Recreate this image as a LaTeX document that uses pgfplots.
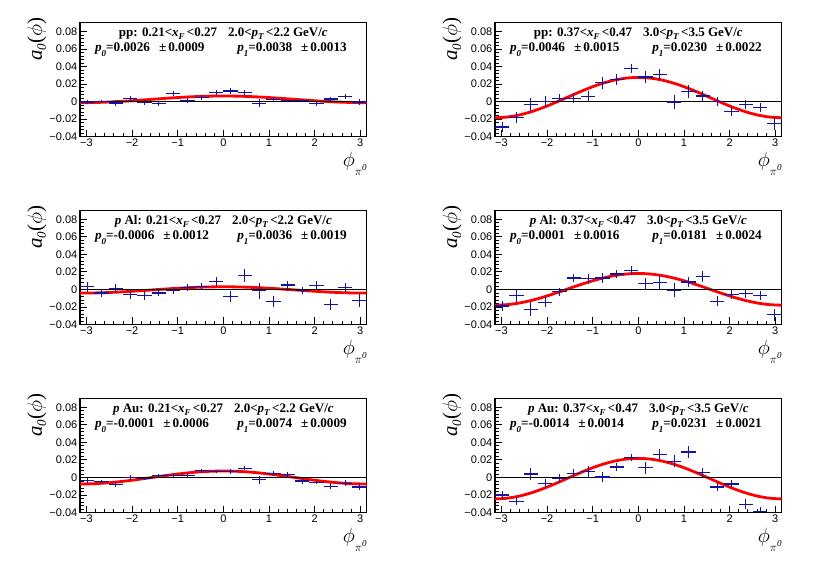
\documentclass[border=0pt]{standalone}
\usepackage{fontspec}
\setmainfont{Liberation Serif}
\newfontfamily\helv{Liberation Sans}
\usepackage{pgfplots}
\pgfplotsset{compat=1.18}
\usepackage{pgfplotstable}

\definecolor{ptblue}{RGB}{20,20,160}
\definecolor{fitred}{RGB}{255,0,0}

\newcommand{\ttlfont}{\fontsize{13}{13}\selectfont\bfseries}
\newcommand{\plfont}{\fontsize{13.2}{13.2}\selectfont\bfseries}
\newcommand{\ylabfont}{\fontsize{21}{21}\selectfont}
\newcommand{\sbx}[2]{\raisebox{-#1}{\fontsize{9}{9}\selectfont\textit{#2}}}
\newcommand{\pline}[3]{\textit{p}\sbx{5pt}{#1}=#2\hspace{9pt}±\hspace{2pt}#3}
\newcommand{\kin}[4]{#1<\textit{x}\sbx{3pt}{F}\,<#2\hspace{11pt}#3<\textit{p}\sbx{3pt}{T}\,<#4 GeV/\textit{c}}

\pgfplotstableread{
x y e
-2.9845 -0.0005 0.0025
-2.6704 0.0000 0.0020
-2.3562 -0.0015 0.0030
-2.0420 0.0035 0.0025
-1.7279 -0.0010 0.0030
-1.4137 -0.0020 0.0025
-1.0996 0.0090 0.0030
-0.7854 0.0015 0.0030
-0.4712 0.0050 0.0030
-0.1571 0.0100 0.0030
0.1571 0.0120 0.0035
0.4712 0.0100 0.0030
0.7854 -0.0020 0.0045
1.0996 0.0020 0.0030
1.4137 0.0010 0.0020
1.7279 0.0015 0.0020
2.0420 -0.0025 0.0020
2.3562 0.0030 0.0025
2.6704 0.0055 0.0030
2.9845 -0.0005 0.0030
}\tA
\pgfplotstableread{
x y e
-2.9845 -0.0290 0.0060
-2.6704 -0.0180 0.0060
-2.3562 -0.0035 0.0075
-2.0420 0.0000 0.0065
-1.7279 0.0040 0.0050
-1.4137 0.0040 0.0060
-1.0996 0.0060 0.0060
-0.7854 0.0215 0.0070
-0.4712 0.0250 0.0060
-0.1571 0.0380 0.0050
0.1571 0.0280 0.0065
0.4712 0.0310 0.0060
0.7854 -0.0005 0.0075
1.0996 0.0115 0.0070
1.4137 0.0065 0.0060
1.7279 0.0000 0.0055
2.0420 -0.0110 0.0050
2.3562 -0.0035 0.0050
2.6704 -0.0070 0.0050
2.9845 -0.0250 0.0075
}\tB
\pgfplotstableread{
x y e
-2.9845 0.0030 0.0060
-2.6704 -0.0040 0.0050
-2.3562 0.0010 0.0050
-2.0420 -0.0055 0.0050
-1.7279 -0.0070 0.0050
-1.4137 -0.0040 0.0035
-1.0996 -0.0010 0.0040
-0.7854 0.0020 0.0040
-0.4712 0.0030 0.0040
-0.1571 0.0090 0.0050
0.1571 -0.0080 0.0060
0.4712 0.0160 0.0070
0.7854 -0.0015 0.0090
1.0996 -0.0140 0.0060
1.4137 0.0050 0.0050
1.7279 -0.0010 0.0040
2.0420 0.0045 0.0055
2.3562 -0.0170 0.0060
2.6704 0.0025 0.0050
2.9845 -0.0125 0.0070
}\tC
\pgfplotstableread{
x y e
-2.9845 -0.0190 0.0060
-2.6704 -0.0070 0.0070
-2.3562 -0.0225 0.0080
-2.0420 -0.0145 0.0060
-1.7279 -0.0025 0.0045
-1.4137 0.0130 0.0050
-1.0996 0.0120 0.0060
-0.7854 0.0130 0.0060
-0.4712 0.0175 0.0050
-0.1571 0.0215 0.0050
0.1571 0.0065 0.0060
0.4712 0.0080 0.0080
0.7854 -0.0010 0.0080
1.0996 0.0085 0.0060
1.4137 0.0150 0.0060
1.7279 -0.0135 0.0055
2.0420 -0.0055 0.0050
2.3562 -0.0050 0.0050
2.6704 -0.0070 0.0055
2.9845 -0.0290 0.0070
}\tD
\pgfplotstableread{
x y e
-2.9845 -0.0035 0.0030
-2.6704 -0.0050 0.0020
-2.3562 -0.0080 0.0025
-2.0420 0.0000 0.0025
-1.7279 -0.0010 0.0020
-1.4137 0.0020 0.0020
-1.0996 0.0020 0.0020
-0.7854 0.0020 0.0025
-0.4712 0.0075 0.0020
-0.1571 0.0070 0.0020
0.1571 0.0070 0.0030
0.4712 0.0105 0.0025
0.7854 -0.0025 0.0045
1.0996 0.0045 0.0030
1.4137 0.0035 0.0025
1.7279 -0.0040 0.0030
2.0420 -0.0060 0.0020
2.3562 -0.0100 0.0035
2.6704 -0.0065 0.0030
2.9845 -0.0110 0.0030
}\tE
\pgfplotstableread{
x y e
-2.9845 -0.0200 0.0050
-2.6704 -0.0270 0.0045
-2.3562 0.0040 0.0070
-2.0420 -0.0070 0.0055
-1.7279 -0.0010 0.0050
-1.4137 0.0045 0.0050
-1.0996 0.0070 0.0060
-0.7854 0.0005 0.0055
-0.4712 0.0120 0.0050
-0.1571 0.0225 0.0040
0.1571 0.0110 0.0070
0.4712 0.0260 0.0060
0.7854 0.0185 0.0070
1.0996 0.0290 0.0070
1.4137 0.0055 0.0050
1.7279 -0.0110 0.0050
2.0420 -0.0075 0.0040
2.3562 -0.0305 0.0055
2.6704 -0.0385 0.0050
}\tF

\pgfplotsset{
 panel/.style={
  width=286.7pt, height=114pt, scale only axis,
  xmin=-3.14159, xmax=3.14159, ymin=-0.04, ymax=0.09,
  clip mode=individual,
  xtick={-3,-2,-1,0,1,2,3}, xticklabels={−3,−2,−1,0,1,2,3},
  ytick={-0.04,-0.02,0,0.02,0.04,0.06,0.08},
  yticklabels={−0.04,−0.02,0,0.02,0.04,0.06,0.08},
  minor x tick num=4, minor y tick num=4,
  tick align=inside, xtick pos=bottom, ytick pos=left,
  major tick length=7pt, minor tick length=3.5pt,
  axis line style={line width=1.3pt},
  every tick/.style={black, line width=0.8pt},
  tick label style={font=\helv\fontsize{11}{11}\selectfont},
  xticklabel style={inner sep=1pt, yshift=-1pt},
  yticklabel style={inner sep=1pt, xshift=-1.5pt},
  scaled y ticks=false,
 }
}

\newcommand{\panel}[7]{%
\begin{axis}[panel, at={(#1pt,#2pt)}, anchor=south west]
\addplot[fitred, line width=2.8pt, smooth] coordinates {#4};
\addplot[black, line width=0.8pt] coordinates {(-3.14159,0) (3.14159,0)};
\addplot[draw=none, mark=none, error bars/.cd, x dir=both, x fixed=0.1571, y dir=both, y explicit, error mark=none, error bar style={draw=ptblue, line width=1.2pt, solid}] table[x=x,y=y,y error=e] {#3};
\node[anchor=base, inner sep=0, font=\ttlfont] at (rel axis cs:0.5,0.877) {#5};
\node[anchor=base west, inner sep=0, font=\plfont] at (rel axis cs:0.052,0.746) {#6};
\node[anchor=base west, inner sep=0, font=\plfont] at (rel axis cs:0.548,0.746) {#7};
\node[rotate=90, anchor=base east, inner sep=0, font=\ylabfont] at ([xshift=-38pt, yshift=5pt]rel axis cs:0,1) {\textit{a}\raisebox{-4pt}{\fontsize{13}{13}\selectfont\textit{0}}(\(\phi\))};
\node[anchor=north east, inner sep=0, font=\fontsize{21}{21}\selectfont] at ([yshift=-15pt]rel axis cs:1,0) {\(\phi\)\raisebox{-9pt}{\fontsize{13}{13}\selectfont\(\pi\)\raisebox{5pt}{\fontsize{9}{9}\selectfont\textit{0}}}};
\end{axis}}

\begin{document}
\begin{tikzpicture}
\path[use as bounding box] (0,0) rectangle (830pt,563pt);
\panel{80}{426.3}{\tA}{(-3.1416,-0.0012) (-2.8798,-0.00107) (-2.6180,-0.00069) (-2.3562,-0.00009) (-2.0944,0.0007) (-1.8326,0.00162) (-1.5708,0.0026) (-1.3090,0.00358) (-1.0472,0.0045) (-0.7854,0.00529) (-0.5236,0.00589) (-0.2618,0.00627) (0,0.0064) (0.2618,0.00627) (0.5236,0.00589) (0.7854,0.00529) (1.0472,0.0045) (1.3090,0.00358) (1.5708,0.0026) (1.8326,0.00162) (2.0944,0.0007) (2.3562,-0.00009) (2.6180,-0.00069) (2.8798,-0.00107) (3.1416,-0.0012)}{pp: \kin{0.21}{0.27}{2.0}{2.2}}{\pline{0}{0.0026}{0.0009}}{\pline{1}{0.0038}{0.0013}}
\panel{495}{426.3}{\tB}{(-3.1416,-0.0184) (-2.8798,-0.01762) (-2.6180,-0.01532) (-2.3562,-0.01166) (-2.0944,-0.0069) (-1.8326,-0.00135) (-1.5708,0.0046) (-1.3090,0.01055) (-1.0472,0.0161) (-0.7854,0.02086) (-0.5236,0.02452) (-0.2618,0.02682) (0,0.0276) (0.2618,0.02682) (0.5236,0.02452) (0.7854,0.02086) (1.0472,0.0161) (1.3090,0.01055) (1.5708,0.0046) (1.8326,-0.00135) (2.0944,-0.0069) (2.3562,-0.01166) (2.6180,-0.01532) (2.8798,-0.01762) (3.1416,-0.0184)}{pp: \kin{0.37}{0.47}{3.0}{3.5}}{\pline{0}{0.0046}{0.0015}}{\pline{1}{0.0230}{0.0022}}
\panel{80}{238.5}{\tC}{(-3.1416,-0.0042) (-2.8798,-0.00408) (-2.6180,-0.00372) (-2.3562,-0.00315) (-2.0944,-0.0024) (-1.8326,-0.00153) (-1.5708,-0.0006) (-1.3090,0.00033) (-1.0472,0.0012) (-0.7854,0.00195) (-0.5236,0.00252) (-0.2618,0.00288) (0,0.0030) (0.2618,0.00288) (0.5236,0.00252) (0.7854,0.00195) (1.0472,0.0012) (1.3090,0.00033) (1.5708,-0.0006) (1.8326,-0.00153) (2.0944,-0.0024) (2.3562,-0.00315) (2.6180,-0.00372) (2.8798,-0.00408) (3.1416,-0.0042)}{\textit{p} Al: \kin{0.21}{0.27}{2.0}{2.2}}{\pline{0}{-0.0006}{0.0012}}{\pline{1}{0.0036}{0.0019}}
\panel{495}{238.5}{\tD}{(-3.1416,-0.0180) (-2.8798,-0.01738) (-2.6180,-0.01557) (-2.3562,-0.0127) (-2.0944,-0.00895) (-1.8326,-0.00458) (-1.5708,0.0001) (-1.3090,0.00478) (-1.0472,0.00915) (-0.7854,0.0129) (-0.5236,0.01577) (-0.2618,0.01758) (0,0.0182) (0.2618,0.01758) (0.5236,0.01577) (0.7854,0.0129) (1.0472,0.00915) (1.3090,0.00478) (1.5708,0.0001) (1.8326,-0.00458) (2.0944,-0.00895) (2.3562,-0.0127) (2.6180,-0.01557) (2.8798,-0.01738) (3.1416,-0.0180)}{\textit{p} Al: \kin{0.37}{0.47}{3.0}{3.5}}{\pline{0}{0.0001}{0.0016}}{\pline{1}{0.0181}{0.0024}}
\panel{80}{50.5}{\tE}{(-3.1416,-0.0075) (-2.8798,-0.00725) (-2.6180,-0.00651) (-2.3562,-0.00533) (-2.0944,-0.0038) (-1.8326,-0.00202) (-1.5708,-0.0001) (-1.3090,0.00182) (-1.0472,0.0036) (-0.7854,0.00513) (-0.5236,0.00631) (-0.2618,0.00705) (0,0.0073) (0.2618,0.00705) (0.5236,0.00631) (0.7854,0.00513) (1.0472,0.0036) (1.3090,0.00182) (1.5708,-0.0001) (1.8326,-0.00202) (2.0944,-0.0038) (2.3562,-0.00533) (2.6180,-0.00651) (2.8798,-0.00725) (3.1416,-0.0075)}{\textit{p} Au: \kin{0.21}{0.27}{2.0}{2.2}}{\pline{0}{-0.0001}{0.0006}}{\pline{1}{0.0074}{0.0009}}
\panel{495}{50.5}{\tF}{(-3.1416,-0.0245) (-2.8798,-0.02371) (-2.6180,-0.0214) (-2.3562,-0.01773) (-2.0944,-0.01295) (-1.8326,-0.00738) (-1.5708,-0.0014) (-1.3090,0.00458) (-1.0472,0.01015) (-0.7854,0.01493) (-0.5236,0.0186) (-0.2618,0.02091) (0,0.0217) (0.2618,0.02091) (0.5236,0.0186) (0.7854,0.01493) (1.0472,0.01015) (1.3090,0.00458) (1.5708,-0.0014) (1.8326,-0.00738) (2.0944,-0.01295) (2.3562,-0.01773) (2.6180,-0.0214) (2.8798,-0.02371) (3.1416,-0.0245)}{\textit{p} Au: \kin{0.37}{0.47}{3.0}{3.5}}{\pline{0}{-0.0014}{0.0014}}{\pline{1}{0.0231}{0.0021}}
\end{tikzpicture}
\end{document}
